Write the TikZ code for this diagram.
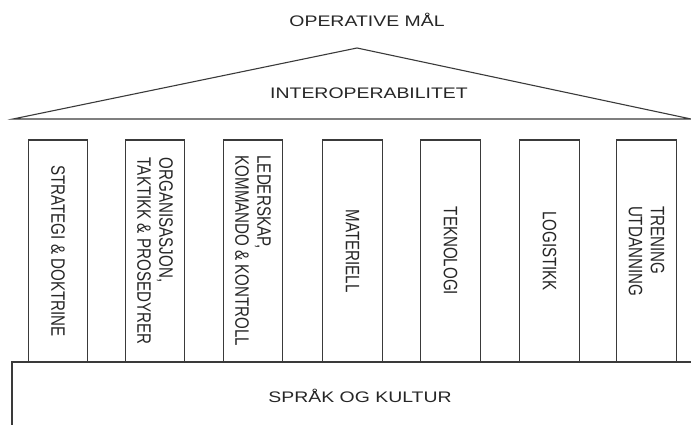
\documentclass[tikz,border=0pt]{standalone}
\usepackage{fontspec}
\setmainfont{Liberation Sans}
\newfontfamily\widesans[FakeStretch=1.27]{Liberation Sans}
\newfontfamily\narrowsans[FakeStretch=0.78]{Liberation Sans}
\usepackage{tikz}
\definecolor{pen}{HTML}{3A3A3A}
\definecolor{txt}{HTML}{262626}

\begin{document}
\begin{tikzpicture}[x=1pt,y=1pt,line width=1.1pt,
  label/.style={font=\widesans\fontsize{15.3}{18}\selectfont,text=txt,anchor=base,inner sep=0},
  pillar/.style={draw=pen,rotate=-90,minimum width=222pt,minimum height=59.5pt,inner sep=0,
    align=left,font=\narrowsans\fontsize{19.4}{22}\selectfont,text=txt}]
\useasboundingbox (0,0) rectangle (691,425);
% roof
\draw[pen] (13,306) -- (357,377) -- (691,306) -- cycle;
\node[label] (goal) at (367,398) {OPERATIVE MÅL};
\node[label] (interop) at (369,326) {INTEROPERABILITET};
% pillars
\node[pillar] (strategy) at (58,174) {STRATEGI \& DOKTRINE};
\node[pillar] (organisation) at (155,174) {ORGANISASJON,\\TAKTIKK \& PROSEDYRER};
\node[pillar] (leadership) at (253,174) {LEDERSKAP,\\KOMMANDO \& KONTROLL};
\node[pillar] (materiel) at (352.5,174) {MATERIELL};
\node[pillar] (technology) at (450.5,174) {TEKNOLOGI};
\node[pillar] (logistics) at (549.5,174) {LOGISTIKK};
\node[pillar] (training) at (646.5,174) {TRENING\\UTDANNING};
% foundation
\draw[pen] (12,0) -- (12,63) -- (691,63);
\node[label] (culture) at (360,22) {SPRÅK OG KULTUR};
\end{tikzpicture}
\end{document}
